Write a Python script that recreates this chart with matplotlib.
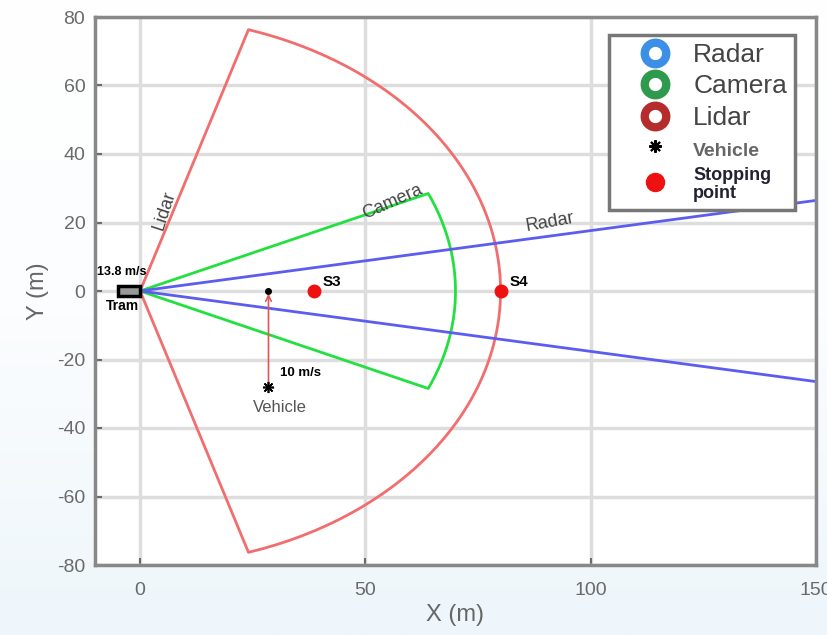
import numpy as np
import matplotlib.pyplot as plt
from matplotlib.lines import Line2D
from matplotlib.patches import Rectangle
from matplotlib.colors import LinearSegmentedColormap

plt.rcParams['font.family'] = ['Liberation Sans', 'DejaVu Sans']
plt.rcParams['axes.unicode_minus'] = False

# sensor fields of view (range m, half angle deg)
lidar_range, lidar_half = 80, 72.5
camera_range, camera_half = 70, 24
radar_range, radar_half = 200, 10

# objects
tram_x, tram_y = [-5, 0], [-1.5, 1.5]
vehicle = (28.5, -28)
vehicle_target = (28.5, 0)
stops_x = [38.5, 80]
stops_y = [0, 0]
stop_names = ['S3', 'S4']

def sector(r, half):
    a = np.radians(np.linspace(-half, half, 200))
    xs = np.concatenate([[0], r * np.cos(a), [0]])
    ys = np.concatenate([[0], r * np.sin(a), [0]])
    return xs, ys

fig = plt.figure(figsize=(8.27, 6.35), dpi=100)
# light blue gradient background
bg = fig.add_axes([0, 0, 1, 1], zorder=-10)
grad = np.linspace(0, 1, 256).reshape(-1, 1)
bg.imshow(grad, aspect='auto', extent=[0, 1, 0, 1], origin='upper',
          cmap=LinearSegmentedColormap.from_list('g', ['#ffffff', '#fbfdfe', '#eef6fb']))
bg.axis('off')

ax = fig.add_axes([95 / 827, 70 / 635, 721 / 827, 548 / 635])
ax.set_facecolor('white')

lx, ly = sector(lidar_range, lidar_half)
ax.plot(lx, ly, color='#f26d6d', lw=2)
cx, cy = sector(camera_range, camera_half)
ax.plot(cx, cy, color='#22e040', lw=2)
a = np.radians(radar_half)
ax.plot([radar_range * np.cos(a), 0, radar_range * np.cos(a)],
        [radar_range * np.sin(a), 0, -radar_range * np.sin(a)], color='#5c5cf0', lw=2)

# tram
ax.add_patch(Rectangle((tram_x[0], tram_y[0]), tram_x[1] - tram_x[0], tram_y[1] - tram_y[0],
                       facecolor='#999999', edgecolor='black', lw=2.5, zorder=5))
ax.text(-4, 5.5, '13.8 m/s', fontsize=9, fontweight='bold', ha='center', va='center')
ax.text(-4, -4.5, 'Tram', fontsize=10, fontweight='bold', ha='center', va='center')

# vehicle
ax.annotate('', xy=vehicle_target, xytext=vehicle,
            arrowprops=dict(arrowstyle='->', color='#e05555', lw=1.2))
ax.plot(*vehicle_target, 'o', color='black', ms=4, zorder=6)
ax.plot(*vehicle, marker=(8, 2, 0), color='black', ms=8, mew=1.2, zorder=6)
ax.text(35.5, -24, '10 m/s', fontsize=9.5, fontweight='bold', ha='center', va='center')
ax.text(31, -34, 'Vehicle', fontsize=12, color='#555555', ha='center', va='center')

# stopping points
ax.plot(stops_x, stops_y, 'o', color='#ee1111', ms=9, zorder=6)
for sx, name in zip(stops_x, stop_names):
    ax.text(sx + 2, 2.5, name, fontsize=11, fontweight='bold', ha='left', va='center')

# sensor labels
ax.text(5.5, 23.5, 'Lidar', fontsize=13, color='#444444', rotation=72, ha='center', va='center')
ax.text(56, 26, 'Camera', fontsize=13, color='#444444', rotation=24, ha='center', va='center')
ax.text(91, 20, 'Radar', fontsize=13, color='#444444', rotation=10, ha='center', va='center')

ax.set_xlim(-10, 150)
ax.set_ylim(-80, 80)
ax.set_xticks([0, 50, 100, 150])
ax.set_yticks(np.arange(-80, 81, 20))
ax.grid(True, color='#dddddd', lw=2.5)
ax.set_axisbelow(True)
for s in ax.spines.values():
    s.set_color('#888888')
    s.set_linewidth(2.5)
ax.tick_params(direction='in', colors='#6a6a6a', labelsize=14, length=5, width=1.5, pad=7)
ax.tick_params(axis='x', pad=12)
ax.set_xlabel('X (m)', fontsize=17, color='#666666', labelpad=4)
ax.set_ylabel('Y (m)', fontsize=17, color='#666666', labelpad=6)

handles = [
    Line2D([], [], ls='', marker='o', ms=15.5, mfc='none', mec='#3c8fe6', mew=6),
    Line2D([], [], ls='', marker='o', ms=15.5, mfc='none', mec='#2e9a4e', mew=6),
    Line2D([], [], ls='', marker='o', ms=15.5, mfc='none', mec='#b52c2c', mew=6),
    Line2D([], [], ls='', marker=(8, 2, 0), ms=9, color='black', mew=1.5),
    Line2D([], [], ls='', marker='o', ms=13, color='#ee1111'),
]
labels = ['Radar', 'Camera', 'Lidar', 'Vehicle', 'Stopping\npoint']
leg = ax.legend(handles, labels, loc='upper right', bbox_to_anchor=(0.971, 0.967),
                borderaxespad=0, fontsize=19, fancybox=False, edgecolor='#777777',
                framealpha=1, handlelength=2.9, handletextpad=0.0,
                labelspacing=0.28, borderpad=0.3)
leg.get_frame().set_linewidth(2.5)
sizes = [19, 19, 19, 14, 13]
for t, s in zip(leg.get_texts(), sizes):
    t.set_fontsize(s)
    t.set_color('#444444')
leg.get_texts()[3].set_color('#666666')
leg.get_texts()[3].set_fontweight('bold')
leg.get_texts()[4].set_fontweight('bold')
leg.get_texts()[4].set_color('#222233')
leg.get_texts()[4].set_linespacing(1.1)

fig.savefig('out.png', dpi=100)
